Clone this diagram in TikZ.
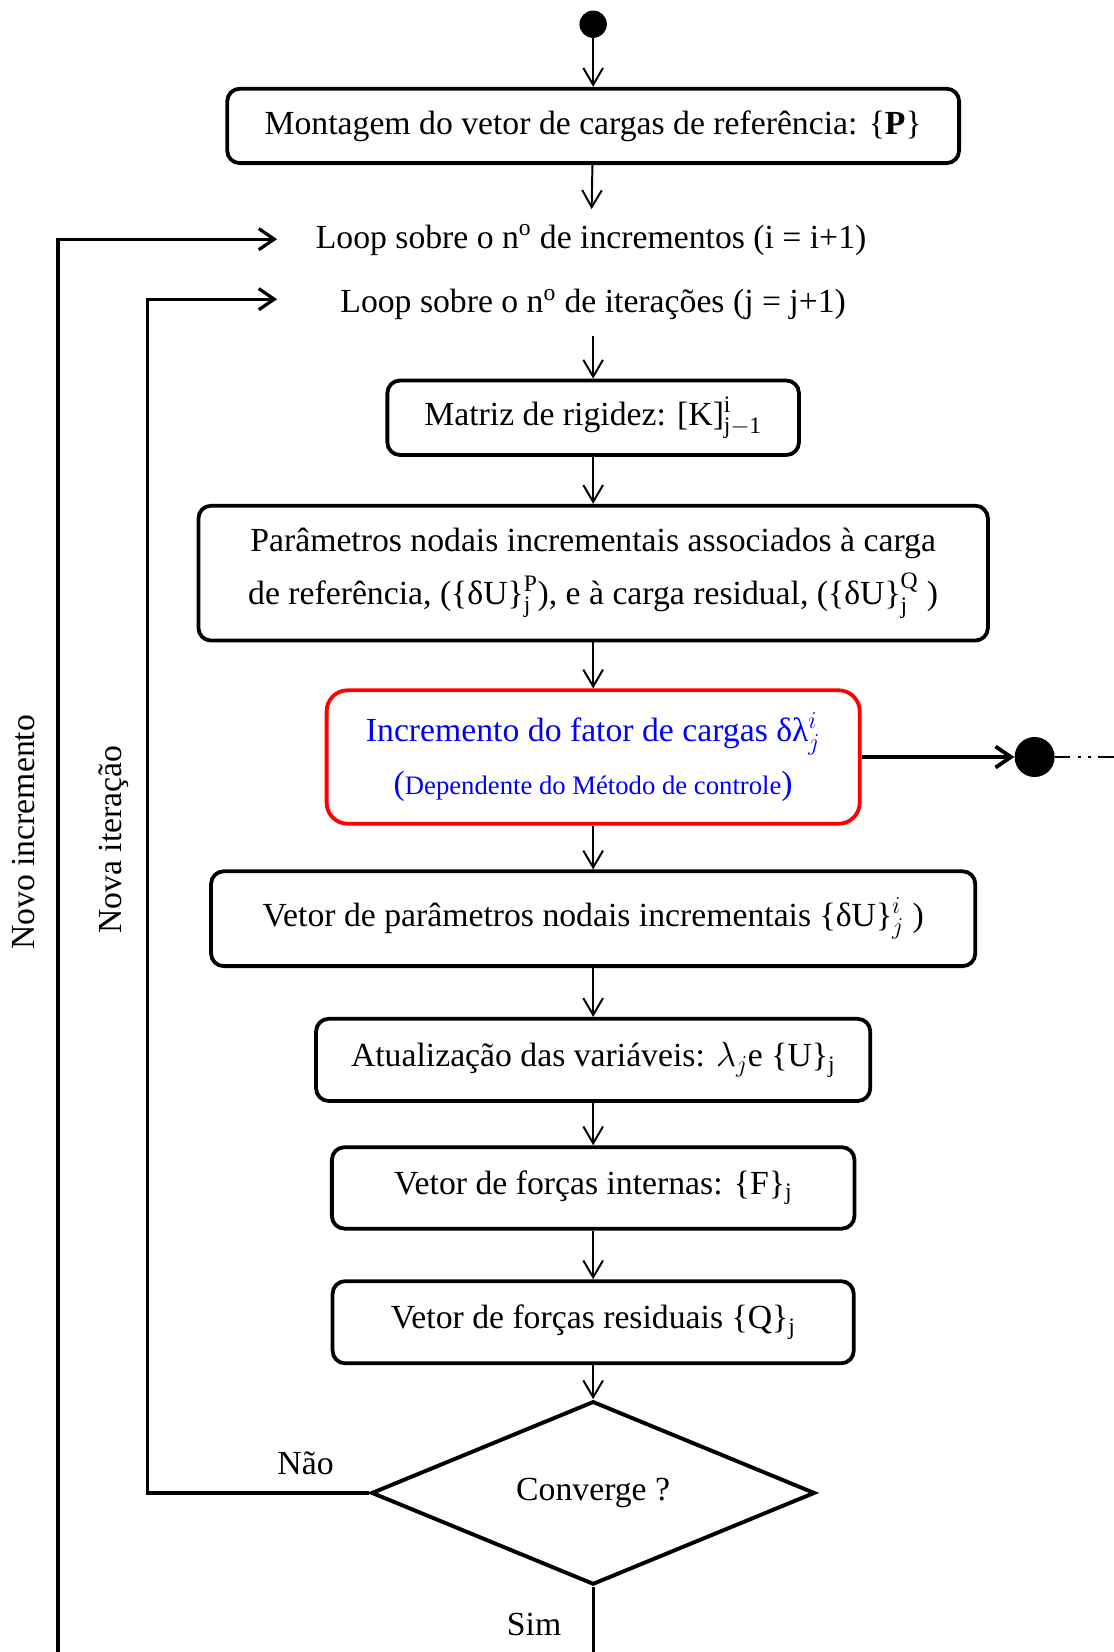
\documentclass[tikz,border=0pt]{standalone}
\usepackage{amsmath}
\usepackage{amssymb}
\usepackage{xcolor}
\usepackage{fontspec}
\setmainfont{Liberation Serif}
\usepackage{tikz}
\usetikzlibrary{shapes.geometric,arrows.meta}

\tikzset{
  caixa/.style={draw, line width=2.7pt, rounded corners=9pt, align=center, inner sep=0pt},
  controle/.style={caixa, draw=red, text=blue, rounded corners=15pt},
  laco/.style={inner xsep=0pt, inner ysep=11pt},
  decisao/.style={diamond, draw, line width=2.8pt, minimum width=315.75pt, minimum height=117pt, inner sep=0pt},
  ponto/.style={circle, fill, inner sep=0pt, minimum size=19.5pt},
  seta/.style={-{Straight Barb[length=12pt,width=14pt]}, line width=1.4pt},
  retorno/.style={-{Straight Barb[length=11pt,width=15pt]}, line width=2.3pt},
  fio/.style={line width=2.3pt}
}

\begin{document}
\begin{tikzpicture}[x=0.75pt,y=-0.75pt,font=\fontsize{24}{37.5}\selectfont]
\useasboundingbox (0,0) rectangle (1057,1568);
% coluna central
\node[ponto] (ini) at (563,23) {};
\node[caixa, minimum width=521pt, minimum height=53pt] (cargas) at (563,119.5) {Montagem do vetor de cargas de referência: \{\textbf{P}\}};
\node[laco] (incr) at (561,228) {Loop sobre o n\textsuperscript{o} de incrementos (i = i+1)};
\node[laco] (iter) at (563,289) {Loop sobre o n\textsuperscript{o} de iterações (j = j+1)};
\node[caixa, minimum width=293pt, minimum height=53pt] (rigidez) at (563,396.5) {Matriz de rigidez: [K]$^{\mathrm{i}}_{\mathrm{j-1}}$};
\node[caixa, minimum width=562pt, minimum height=96pt] (param) at (563,544) {Parâmetros nodais incrementais associados à carga\\de referência, (\{δU\}$^{\mathrm{P}}_{\mathrm{j}}$), e à carga residual, (\{δU\}$^{\mathrm{Q}}_{\mathrm{j}}$ )};
\node[controle, minimum width=379.5pt, minimum height=95pt] (fator) at (563,718.5) {Incremento do fator de cargas δλ$^{i}_{j}$\\{\fontsize{24}{30}\selectfont(}{\fontsize{19}{24}\selectfont Dependente do Método de controle}{\fontsize{24}{30}\selectfont)}};
\node[caixa, minimum width=544pt, minimum height=67.5pt] (vetor) at (563,872) {Vetor de parâmetros nodais incrementais \{δU\}$^{i}_{j}$ )};
\node[caixa, minimum width=394.5pt, minimum height=58.5pt] (atual) at (563,1006) {Atualização das variáveis: $\lambda_{j}$e \{U\}$_{\mathrm{j}}$};
\node[caixa, minimum width=372pt, minimum height=58pt] (internas) at (563,1127.5) {Vetor de forças internas: \{F\}$_{\mathrm{j}}$};
\node[caixa, minimum width=371pt, minimum height=58.5pt] (residuais) at (563,1255) {Vetor de forças residuais \{Q\}$_{\mathrm{j}}$};
\node[decisao] (conv) at (563,1417) {Converge ?};

\draw[seta] (ini) -- (cargas);
\foreach \a/\b in {cargas/incr, iter/rigidez, rigidez/param, param/fator, fator/vetor, vetor/atual, atual/internas, internas/residuais, residuais/conv}
  \draw[seta] (\a) -- (\b);

% saida do fator de cargas
\node[ponto, minimum size=28.5pt] (saida) at (982,718.5) {};
\coordinate (fimdir) at (1057,718.5);
\draw[retorno, line width=2.7pt] (fator) -- (saida);
\draw[line width=1.3pt, dash pattern=on 11pt off 5.5pt on 2pt off 5pt on 2pt off 5.5pt] (saida) -- (fimdir);

% lacos de retorno
\coordinate (ret1) at (263,227);
\coordinate (ret2) at (263,284);
\coordinate (canto) at (140,284);
\coordinate (fimnovo) at (55,1568);
\draw[retorno] (conv.west) -| (canto) -- (ret2);
\draw[retorno] (fimnovo) |- (ret1);
\draw[fio] (conv.south) -- (conv.south |- fimnovo);

\node (nao) at (290,1389) {Não};
\node (sim) at (507,1542) {Sim};
\node[rotate=90] (novo) at (22,790) {Novo incremento};
\node[rotate=90] (nova) at (108,797) {Nova iteração};
\end{tikzpicture}
\end{document}
